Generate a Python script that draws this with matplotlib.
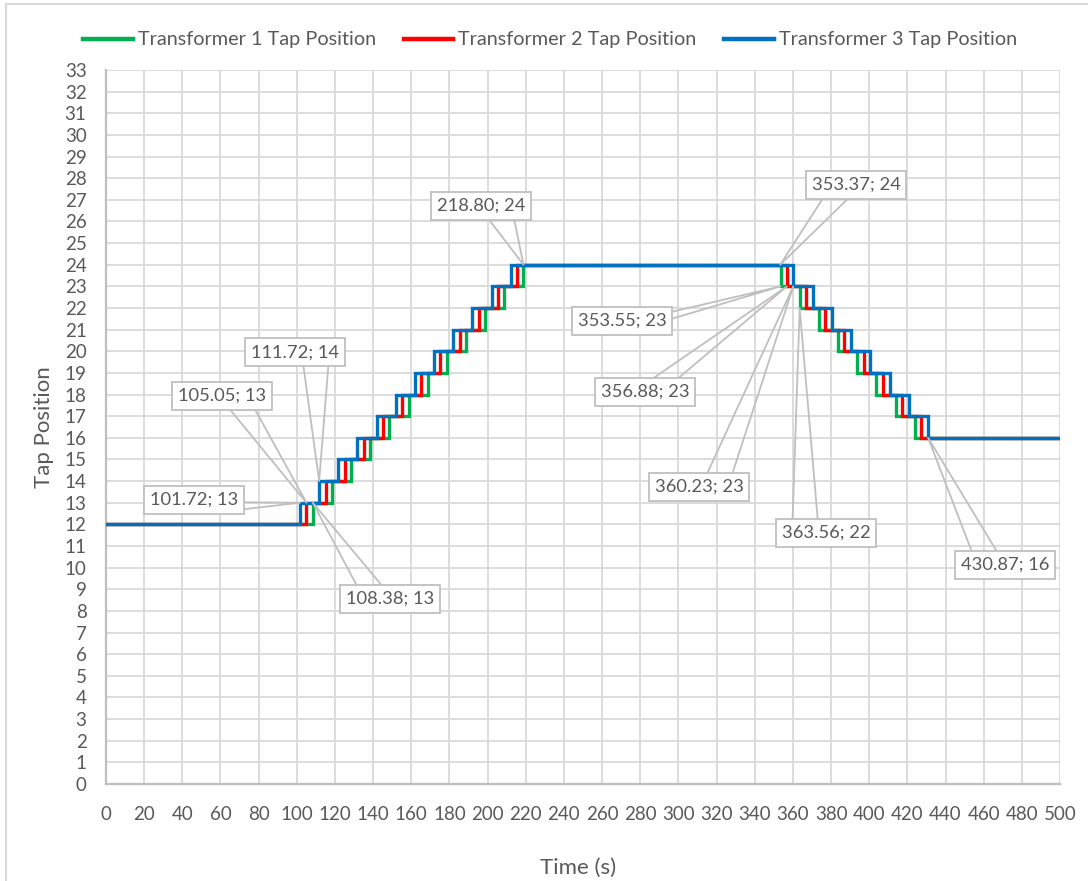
import matplotlib
matplotlib.use("Agg")
import matplotlib.pyplot as plt
from matplotlib.lines import Line2D

plt.rcParams['font.family'] = ['Lato', 'DejaVu Sans']

# Tap-change instants (s) and the tap position reached at each instant
t1_time = [0, 108.38, 118.42, 128.46, 138.49, 148.53, 158.57, 168.61, 178.65,
           188.69, 198.72, 208.76, 218.80, 353.37, 353.55, 363.56, 373.62,
           383.67, 393.73, 403.78, 413.84, 423.89, 500]
t1_tap = [12, 13, 14, 15, 16, 17, 18, 19, 20, 21, 22, 23, 24, 24, 23, 22, 21,
          20, 19, 18, 17, 16, 16]

t2_time = [0, 105.05, 115.05, 125.09, 135.13, 145.17, 155.21, 165.25, 175.29,
           185.34, 195.38, 205.42, 215.46, 356.88, 366.92, 376.97, 387.01,
           397.06, 407.10, 417.15, 427.19, 500]
t2_tap = [12, 13, 14, 15, 16, 17, 18, 19, 20, 21, 22, 23, 24, 23, 22, 21, 20,
          19, 18, 17, 16, 16]

t3_time = [0, 101.72, 111.72, 121.76, 131.80, 141.84, 151.88, 161.92, 171.96,
           182.00, 192.04, 202.08, 212.12, 360.23, 370.32, 380.41, 390.50,
           400.59, 410.68, 420.77, 430.87, 500]
t3_tap = [12, 13, 14, 15, 16, 17, 18, 19, 20, 21, 22, 23, 24, 23, 22, 21, 20,
          19, 18, 17, 16, 16]

series_names = ["Transformer 1 Tap Position", "Transformer 2 Tap Position",
                "Transformer 3 Tap Position"]
series_colors = ["#00B050", "#FF0000", "#0070C0"]

x_ticks = list(range(0, 501, 20))
y_ticks = list(range(0, 34))

# Data callouts: (series number, point index)
callout_refs = [(3, 1), (2, 1), (3, 2), (1, 1), (1, 12), (1, 13), (1, 14),
                (2, 13), (3, 13), (1, 15), (3, 20)]
# Callout box centres in axis units
callout_pos = [(46.1, 13.13), (60.8, 17.93), (99.1, 19.96), (148.8, 8.55),
               (196.5, 26.71), (393.1, 27.68), (270.4, 21.40), (282.5, 18.12),
               (310.8, 13.73), (377.4, 11.60), (471.2, 10.12)]

TXT = "#595959"
GRID = "#D9D9D9"
EDGE = "#BFBFBF"

fig = plt.figure(figsize=(10.88, 8.81), dpi=100)
ax = fig.add_axes([106 / 1088, 1 - 784 / 881, 954 / 1088, 714 / 881])

series = [(t1_time, t1_tap), (t2_time, t2_tap), (t3_time, t3_tap)]
for (tt, yy), name, col in zip(series, series_names, series_colors):
    ax.plot(tt, yy, drawstyle="steps-post", color=col, lw=2.4, label=name,
            solid_joinstyle="miter", zorder=3)

ax.set_xlim(0, 500)
ax.set_ylim(0, 33)
ax.set_xticks(x_ticks)
ax.set_yticks(y_ticks)
ax.grid(True, color=GRID, lw=1.3, zorder=0)
ax.set_axisbelow(True)
ax.tick_params(length=0, labelsize=13.5, labelcolor=TXT)
ax.tick_params(axis="y", pad=14)
ax.tick_params(axis="x", pad=16)
for s in ("top", "right"):
    ax.spines[s].set_visible(False)
for s in ("left", "bottom"):
    ax.spines[s].set_color(EDGE)
    ax.spines[s].set_linewidth(1.6)

ax.set_xlabel("Time (s)", fontsize=16, color=TXT, va="center")
ax.xaxis.set_label_coords(0.495, -0.118)
ax.set_ylabel("Tap Position", fontsize=16, color=TXT, va="center")
ax.yaxis.set_label_coords(-0.065, 0.5)

fig.legend(loc="center", bbox_to_anchor=(0.5055, 0.9546), ncol=3,
           frameon=False, fontsize=14.3, labelcolor=TXT, handlelength=2.5,
           handletextpad=0.25, columnspacing=1.4)
for ln in fig.legends[0].get_lines():
    ln.set_linewidth(3.2)

# Callout boxes
texts = []
for (sn, idx), (bx, by) in zip(callout_refs, callout_pos):
    tt, yy = series[sn - 1]
    t = ax.text(bx, by, f"{tt[idx]:.2f}; {yy[idx]}", ha="center",
                va="center", fontsize=13.2, color=TXT, zorder=6,
                bbox=dict(boxstyle="square,pad=0.32", fc="white", ec=EDGE,
                          lw=1.3))
    texts.append((t, tt[idx], yy[idx]))

fig.canvas.draw()
renderer = fig.canvas.get_renderer()
inv = fig.transFigure.inverted()
for t, px, py in texts:
    ext = t.get_bbox_patch().get_window_extent(renderer)
    x0, y0, x1, y1 = ext.x0, ext.y0, ext.x1, ext.y1
    w, h = x1 - x0, y1 - y0
    cx, cy = (x0 + x1) / 2, (y0 + y1) / 2
    tx, ty = ax.transData.transform((px, py))
    dx, dy = tx - cx, ty - cy
    if abs(dx) * h > abs(dy) * w:
        ex = x1 if dx > 0 else x0
        if dy > 0:
            b1, b2 = (ex, y1 - h * 2 / 12), (ex, y1 - h * 5 / 12)
        else:
            b1, b2 = (ex, y0 + h * 2 / 12), (ex, y0 + h * 5 / 12)
    else:
        ey = y1 if dy > 0 else y0
        if dx > 0:
            b1, b2 = (x1 - w * 2 / 12, ey), (x1 - w * 5 / 12, ey)
        else:
            b1, b2 = (x0 + w * 2 / 12, ey), (x0 + w * 5 / 12, ey)
    pts = inv.transform([b1, (tx, ty), b2])
    ax.add_line(Line2D(pts[:, 0], pts[:, 1], transform=fig.transFigure,
                       color=EDGE, lw=1.3, zorder=5, clip_on=False))

# Chart area border (left and top edges)
fig.add_artist(Line2D([6 / 1088, 6 / 1088], [0, 1 - 4 / 881],
                      transform=fig.transFigure, color=GRID, lw=1.5))
fig.add_artist(Line2D([6 / 1088, 1], [1 - 4 / 881, 1 - 4 / 881],
                      transform=fig.transFigure, color=GRID, lw=1.5))

fig.savefig("out.png", dpi=100)
